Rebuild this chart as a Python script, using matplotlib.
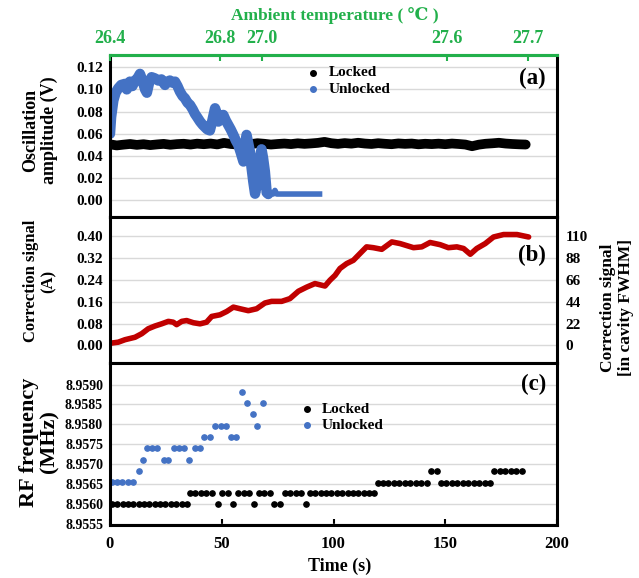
import matplotlib.pyplot as plt
from matplotlib.ticker import FormatStrFormatter

plt.rcParams['font.family'] = ['Liberation Serif', 'DejaVu Serif']
plt.rcParams['font.weight'] = 'bold'

# ---- data ----
# (a) oscillation amplitude, locked
amp_lock_t = [0, 3, 6, 9, 12, 15, 18, 21, 24, 27, 30, 33, 36, 39, 42, 45, 48, 51, 54, 57,
              60, 63, 66, 69, 72, 75, 78, 81, 84, 87, 90, 93, 96, 99, 102, 105, 108, 111,
              114, 117, 120, 123, 126, 129, 132, 135, 138, 141, 144, 147, 150, 153, 156,
              159, 162, 165, 168, 171, 174, 177, 180, 183, 186]
amp_lock_v = [.0505, .0495, .0502, .0508, .0500, .0506, .0498, .0504, .0509, .0501, .0507,
              .0510, .0503, .0511, .0506, .0512, .0504, .0518, .0508, .0503, .0514, .0507,
              .0515, .0510, .0503, .0508, .0512, .0507, .0514, .0509, .0513, .0518, .0527,
              .0515, .0509, .0516, .0511, .0519, .0512, .0508, .0515, .0510, .0506, .0513,
              .0509, .0512, .0505, .0510, .0507, .0511, .0506, .0512, .0508, .0503, .0488,
              .0502, .0510, .0514, .0519, .0512, .0508, .0505, .0503]

# (a) oscillation amplitude, unlocked
amp_unl_t = [0, 0.5, 1.5, 2.5, 3.7, 5, 6.7, 7.5, 8.9, 10, 11.2, 12.3, 13.4, 14.5, 15.7, 16.5,
             17.5, 18.6, 20, 21.6, 23, 24.6, 25.7, 26.8, 28, 29.1, 30.2, 31.3, 32.5, 33.5,
             34.7, 35.8, 37, 38, 39, 40.3, 41.5, 42.5, 43.5, 44.7, 45.8, 47, 48, 48.5, 49.5,
             50.7, 51.8, 52.9, 54, 55.2, 56.3, 57.4, 58.5, 59.7, 60.4, 61.1, 61.8, 62.6,
             63.3, 64.1, 64.9, 65.5, 66.3, 67.0, 67.8, 68.5, 69.3, 70.1, 70.8]
amp_unl_v = [.060, .075, .090, .097, .101, .104, .105, .100, .107, .103, .108, .110, .114,
             .108, .100, .097, .106, .111, .110, .108, .109, .104, .107, .108, .106, .107,
             .103, .098, .094, .092, .088, .086, .082, .078, .075, .071, .068, .066, .064,
             .063, .072, .083, .077, .071, .074, .077, .072, .068, .064, .059, .054, .050,
             .043, .035, .048, .059, .052, .044, .030, .017, .006, .012, .026, .038, .046,
             .038, .026, .007, .0057]
amp_flat_t = [70.8, 73.0, 73.8, 74.6, 80.0, 95.0]
amp_flat_v = [.0057, .0057, .0090, .0057, .0057, .0057]

# (b) correction signal (A)
corr_t = [0, 3.7, 6.7, 11.2, 14.2, 17.1, 20.1, 23.1, 26.1, 28.3, 29.8, 32.1, 34.3, 37.3,
          40.3, 43.2, 45.5, 49.2, 52.2, 55.2, 58.2, 61.9, 65.6, 69.3, 72.3, 76.8, 80.5,
          84.3, 88.0, 91.7, 96.2, 98.4, 100.7, 102.9, 105.9, 108.9, 111.9, 114.8, 117.8,
          121.6, 126.1, 129.8, 135.8, 139.5, 143.2, 147.7, 151.4, 155.2, 158.2, 161.2,
          164.1, 167.9, 171.6, 176.1, 182.1, 187.3]
corr_v = [.008, .012, .021, .030, .043, .061, .071, .079, .088, .085, .076, .088, .091,
          .083, .079, .085, .106, .112, .124, .140, .134, .127, .134, .155, .161, .161,
          .171, .198, .213, .226, .217, .238, .256, .281, .299, .311, .336, .360, .357,
          .351, .378, .372, .357, .360, .376, .368, .357, .360, .354, .333, .354, .372,
          .396, .405, .405, .396]

# (c) RF frequency (MHz)
rf_lock_t = [0.8, 3.2, 5.6, 8.0, 10.4, 12.8, 15.2, 17.6, 20.0, 22.4, 24.8, 27.2, 29.6, 32.0,
             34.3, 35.8, 38.2, 40.6, 42.9, 45.5, 48.2, 50.3, 52.6, 54.9, 57.4, 59.8, 62.2,
             64.3, 66.7, 69.1, 71.4, 73.5, 75.9, 78.3, 80.7, 83.1, 85.5, 87.7, 89.5, 91.9,
             94.3, 96.7, 99.1, 101.5, 103.9, 106.3, 108.7, 111.1, 113.5, 115.9, 118.3,
             119.8, 122.2, 124.6, 127.1, 129.5, 131.9, 134.4, 136.8, 139.2, 141.7, 143.6,
             146.2, 148.1, 150.5, 153.0, 155.4, 157.9, 160.3, 162.8, 165.2, 167.7, 170.1,
             171.8, 174.3, 176.8, 179.2, 181.7, 184.2]
rf_lock_f = [8.95600] * 15 + [8.95627] * 5 + [8.95600] + [8.95627] * 2 + [8.95600] + \
            [8.95627] * 3 + [8.95600] + [8.95627] * 3 + [8.95600] * 2 + [8.95627] * 4 + \
            [8.95600] + [8.95627] * 13 + [8.95654] * 10 + [8.95683] * 2 + \
            [8.95654] * 10 + [8.95683] * 6
rf_unl_t = [0.8, 3.1, 5.5, 7.9, 10.4, 12.9, 14.6, 16.4, 18.8, 21.2, 24.0, 26.1, 28.6, 30.9,
            33.3, 35.5, 38.0, 40.3, 42.2, 44.7, 47.0, 49.5, 51.8, 54.1, 56.5, 58.9, 61.1,
            63.8, 65.9, 68.5]
rf_unl_f = [8.95655] * 5 + [8.95684, 8.95711] + [8.95740] * 3 + [8.95711] * 2 + \
           [8.95740] * 3 + [8.95711] + [8.95740] * 2 + [8.95769] * 2 + [8.95796] * 3 + \
           [8.95769] * 2 + [8.95882, 8.95853, 8.95825, 8.95796, 8.95853]

temp_pos = [0, 49.2, 68.0, 150.8, 187.0]
temp_labels = ['26.4', '26.8', '27.0', '27.6', '27.7']

BLUE = '#4472c4'
RED = '#c00000'
GREEN = '#22b04b'
GRID = '#d9d9d9'

W, H = 639, 578
fig = plt.figure(figsize=(W / 100, H / 100), dpi=100)


def box(l, t, r, b):
    return [l / W, 1 - b / H, (r - l) / W, (b - t) / H]


ax_a = fig.add_axes(box(110, 55, 557, 217))
ax_b = fig.add_axes(box(110, 217, 557, 363))
ax_c = fig.add_axes(box(110, 363, 557, 525))

for ax in (ax_a, ax_b, ax_c):
    ax.set_xlim(0, 200)
    ax.set_axisbelow(True)
    ax.grid(axis='y', color=GRID, lw=1)
    for s in ax.spines.values():
        s.set_linewidth(2.2)
        s.set_color('black')
    ax.tick_params(axis='y', length=0, pad=5, labelsize=11)
    ax.tick_params(axis='x', direction='in', length=4, width=1.5)

# panel (a)
ax_a.plot(amp_lock_t, amp_lock_v, color='black', lw=7, solid_capstyle='round')
ax_a.plot(amp_unl_t, amp_unl_v, color=BLUE, lw=7.5, solid_capstyle='round')
ax_a.plot(amp_flat_t, amp_flat_v, color=BLUE, lw=4, solid_capstyle='butt')
ax_a.set_ylim(-0.015, 0.131)
ax_a.set_yticks([0, 0.02, 0.04, 0.06, 0.08, 0.10, 0.12])
ax_a.yaxis.set_major_formatter(FormatStrFormatter('%.2f'))
ax_a.set_xticks([])
ax_a.spines['top'].set_color(GREEN)

ax_t = ax_a.twiny()
ax_t.set_xlim(0, 200)
ax_t.set_xticks(temp_pos)
ax_t.set_xticklabels(temp_labels)
ax_t.tick_params(axis='x', direction='in', length=4, width=1.5, color=GREEN,
                 labelcolor=GREEN, labelsize=13, pad=6)
for k, s in ax_t.spines.items():
    s.set_visible(k == 'top')
ax_t.spines['top'].set_color(GREEN)
ax_t.spines['top'].set_linewidth(2.2)
fig.text(335 / W, 1 - 16 / H, 'Ambient temperature ( \u2103 )', color=GREEN,
         fontsize=12.5, ha='center', va='center')

# legend-like labels in (a)
ax_a.plot([0.454], [0.889], 'o', color='black', ms=4, transform=ax_a.transAxes)
ax_a.plot([0.454], [0.790], 'o', color=BLUE, ms=4, transform=ax_a.transAxes)
ax_a.text(0.49, 0.889, 'Locked', transform=ax_a.transAxes, fontsize=11, va='center')
ax_a.text(0.49, 0.790, 'Unlocked', transform=ax_a.transAxes, fontsize=11, va='center')
ax_a.text(0.975, 0.856, '(a)', transform=ax_a.transAxes, fontsize=16.5,
          ha='right', va='center')

# panel (b)
ax_b.plot(corr_t, corr_v, color=RED, lw=4, solid_capstyle='round')
ax_b.set_ylim(-0.064, 0.469)
ax_b.set_yticks([0, 0.08, 0.16, 0.24, 0.32, 0.40])
ax_b.yaxis.set_major_formatter(FormatStrFormatter('%.2f'))
ax_b.set_xticks([])
ax_b2 = ax_b.twinx()
ax_b2.set_ylim(-0.064 * 275, 0.469 * 275)
ax_b2.set_yticks([0, 22, 44, 66, 88, 110])
ax_b2.tick_params(axis='y', length=0, pad=6, labelsize=11)
for s in ax_b2.spines.values():
    s.set_visible(False)
ax_b.text(0.975, 0.740, '(b)', transform=ax_b.transAxes, fontsize=16.5,
          ha='right', va='center')

# panel (c)
ax_c.plot(rf_lock_t, rf_lock_f, 'o', color='black', ms=3.8)
ax_c.plot(rf_unl_t, rf_unl_f, 'o', color=BLUE, ms=3.8)
ax_c.set_ylim(8.95548, 8.95954)
ax_c.set_yticks([8.9555, 8.9560, 8.9565, 8.9570, 8.9575, 8.9580, 8.9585, 8.9590])
ax_c.yaxis.set_major_formatter(FormatStrFormatter('%.4f'))
ax_c.tick_params(axis='y', labelsize=10)
ax_c.set_xticks([0, 50, 100, 150, 200])
ax_c.tick_params(axis='x', labelsize=12, pad=8)
ax_c.plot([0.44], [0.716], 'o', color='black', ms=4, transform=ax_c.transAxes)
ax_c.plot([0.44], [0.617], 'o', color=BLUE, ms=4, transform=ax_c.transAxes)
ax_c.text(0.474, 0.716, 'Locked', transform=ax_c.transAxes, fontsize=11, va='center')
ax_c.text(0.474, 0.617, 'Unlocked', transform=ax_c.transAxes, fontsize=11, va='center')
ax_c.text(0.975, 0.870, '(c)', transform=ax_c.transAxes, fontsize=16.5,
          ha='right', va='center')

# axis titles
fig.text(40 / W, 1 - 130 / H, 'Oscillation\namplitude (V)', rotation=90,
         fontsize=13, ha='center', va='center', linespacing=1.15)
fig.text(40 / W, 1 - 281 / H, 'Correction signal\n(A)', rotation=90,
         fontsize=12, ha='center', va='center', linespacing=1.15)
fig.text(39 / W, 1 - 442 / H, 'RF frequency\n(MHz)', rotation=90,
         fontsize=16, ha='center', va='center', linespacing=1.0)
fig.text(617 / W, 1 - 308 / H, 'Correction signal\n[in cavity FWHM]', rotation=90,
         fontsize=12.5, ha='center', va='center', linespacing=1.15)
fig.text(340 / W, 1 - 566 / H, 'Time (s)', fontsize=13, ha='center', va='center')

fig.savefig('out.png', dpi=100)
